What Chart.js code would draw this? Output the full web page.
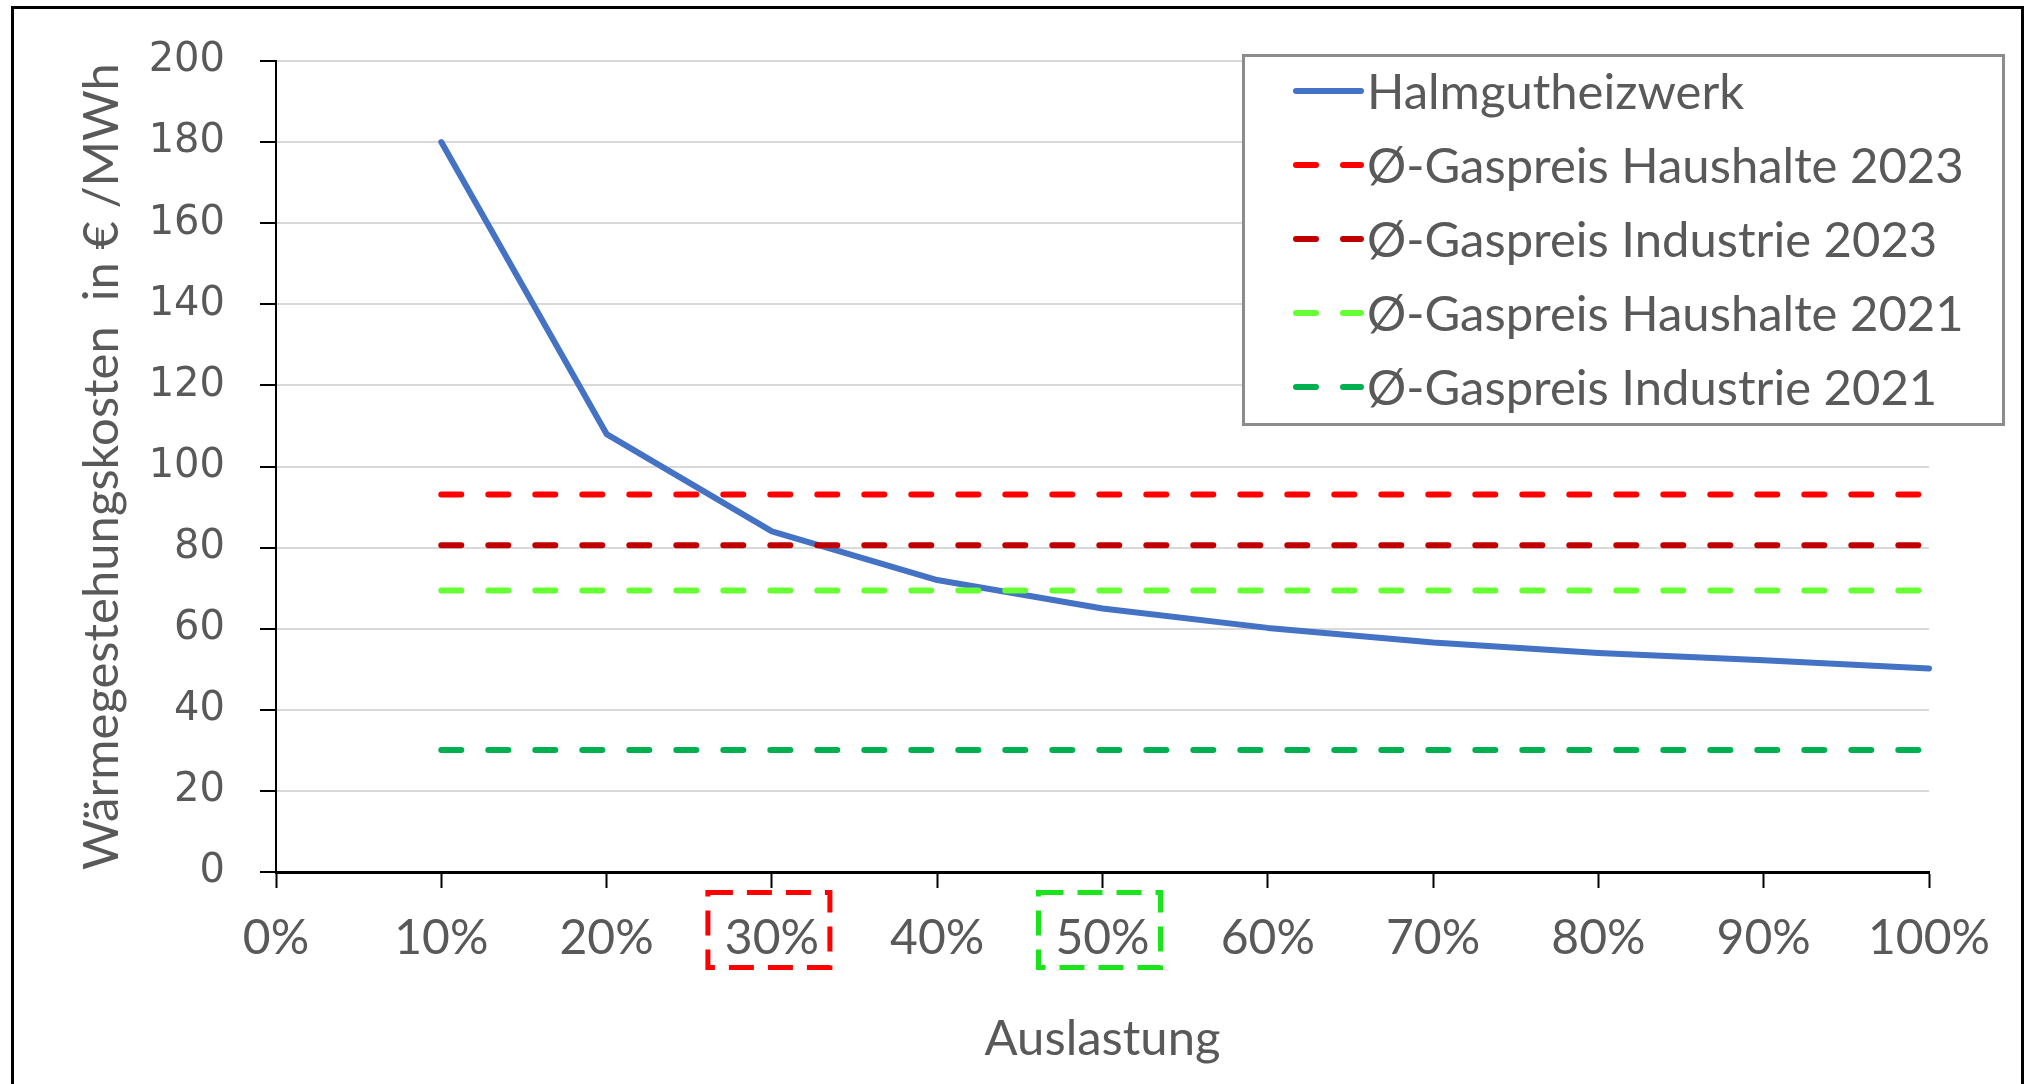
<!DOCTYPE html>
<html>
<head>
<meta charset="utf-8">
<script src="https://cdn.jsdelivr.net/npm/chart.js@4.4.1/dist/chart.umd.min.js"></script>
<style>
  html, body { margin: 0; padding: 0; background: #fff; }
  canvas { display: block; }
</style>
</head>
<body>
<canvas id="waermeChart" width="2033" height="1084"></canvas>
<script>
// Auslastung categories (x axis)
const categories = ["0%", "10%", "20%", "30%", "40%", "50%", "60%", "70%", "80%", "90%", "100%"];

// series values in € / MWh
const halmgutheizwerk = [null, 180, 108, 84, 72, 65, 60.2, 56.6, 54, 52.2, 50.2];
const haushalte2023 = [null, 93.1, 93.1, 93.1, 93.1, 93.1, 93.1, 93.1, 93.1, 93.1, 93.1];
const industrie2023 = [null, 80.6, 80.6, 80.6, 80.6, 80.6, 80.6, 80.6, 80.6, 80.6, 80.6];
const haushalte2021 = [null, 69.4, 69.4, 69.4, 69.4, 69.4, 69.4, 69.4, 69.4, 69.4, 69.4];
const industrie2021 = [null, 30.1, 30.1, 30.1, 30.1, 30.1, 30.1, 30.1, 30.1, 30.1, 30.1];

// y tick range
const yMin = 0;
const yMax = 200;
const yStep = 20;

// labels that get a dashed box below the axis
const markedTicks = [
  { label: "30%", color: "#FF0000" },
  { label: "50%", color: "#1AE51A" },
];

const textColor = "#595959";
const mainFont = "Lato, 'Open Sans', sans-serif";

const gasDash = [20, 27];

const decorations = {
  id: "decorations",
  afterDraw(chart) {
    const ctx = chart.ctx;
    const xScale = chart.scales.x;

    // dashed boxes round selected tick labels
    ctx.save();
    ctx.lineWidth = 5;
    ctx.setLineDash([25, 14]);
    ctx.lineCap = "butt";
    markedTicks.forEach((m) => {
      const idx = categories.indexOf(m.label);
      const cx = xScale.getPixelForValue(idx) - 3;
      ctx.strokeStyle = m.color;
      ctx.strokeRect(cx - 61, 892.5, 122, 75);
    });
    ctx.restore();

    // legend
    const lx = 1243.5, ly = 55.5, lw = 760, lh = 369;
    ctx.save();
    ctx.fillStyle = "#fff";
    ctx.fillRect(lx, ly, lw, lh);
    ctx.strokeStyle = "#8C8C8C";
    ctx.lineWidth = 3;
    ctx.strokeRect(lx, ly, lw, lh);
    ctx.font = "49px " + mainFont;
    ctx.textBaseline = "middle";
    ctx.textAlign = "left";
    chart.data.datasets.forEach((ds, i) => {
      const y = 91 + i * 74;
      ctx.strokeStyle = ds.borderColor;
      ctx.lineWidth = 6;
      ctx.lineCap = "round";
      ctx.setLineDash(ds.borderDash || []);
      ctx.beginPath();
      ctx.moveTo(1296, y);
      ctx.lineTo(1361, y);
      ctx.stroke();
      ctx.setLineDash([]);
      ctx.fillStyle = textColor;
      ctx.fillText(ds.label, 1367, y + 2);
    });
    ctx.restore();

    // outer frame
    ctx.save();
    ctx.strokeStyle = "#000";
    ctx.lineWidth = 3;
    ctx.beginPath();
    ctx.moveTo(12.5, 1090);
    ctx.lineTo(12.5, 7.5);
    ctx.lineTo(2022.5, 7.5);
    ctx.lineTo(2022.5, 1090);
    ctx.stroke();
    ctx.restore();
  },
};

new Chart(document.getElementById("waermeChart"), {
  type: "line",
  data: {
    labels: categories,
    datasets: [
      {
        label: "Halmgutheizwerk",
        data: halmgutheizwerk,
        borderColor: "#4472C4",
        borderWidth: 6,
        borderJoinStyle: "round",
        borderCapStyle: "round",
        order: 1,
      },
      {
        label: "Ø-Gaspreis Haushalte 2023",
        data: haushalte2023,
        borderColor: "#FF0000",
        borderWidth: 6,
        borderDash: gasDash,
        borderCapStyle: "round",
        order: 0,
      },
      {
        label: "Ø-Gaspreis Industrie 2023",
        data: industrie2023,
        borderColor: "#C00000",
        borderWidth: 6,
        borderDash: gasDash,
        borderCapStyle: "round",
        order: 0,
      },
      {
        label: "Ø-Gaspreis Haushalte 2021",
        data: haushalte2021,
        borderColor: "#66FF33",
        borderWidth: 6,
        borderDash: gasDash,
        borderCapStyle: "round",
        order: 0,
      },
      {
        label: "Ø-Gaspreis Industrie 2021",
        data: industrie2021,
        borderColor: "#00B050",
        borderWidth: 6,
        borderDash: gasDash,
        borderCapStyle: "round",
        order: 0,
      },
    ],
  },
  options: {
    responsive: false,
    animation: false,
    devicePixelRatio: 1,
    layout: { padding: { top: 61, right: 104, left: 0, bottom: 0 } },
    elements: { point: { radius: 0, hoverRadius: 0 }, line: { tension: 0 } },
    plugins: {
      legend: { display: false },
      tooltip: { enabled: false },
    },
    scales: {
      x: {
        type: "category",
        offset: false,
        afterFit: (scale) => { scale.height = 212; },
        grid: {
          drawOnChartArea: false,
          drawTicks: true,
          tickLength: 16,
          tickColor: "#000",
          tickWidth: 2,
        },
        border: { color: "#000", width: 3 },
        ticks: {
          color: textColor,
          font: { family: mainFont, size: 48 },
          padding: 22,
          maxRotation: 0,
          autoSkip: false,
        },
        title: {
          display: true,
          text: "Auslastung",
          color: textColor,
          font: { family: mainFont, size: 49 },
          padding: { top: 0, bottom: 15 },
        },
      },
      y: {
        min: yMin,
        max: yMax,
        afterFit: (scale) => { scale.width = 276; },
        grid: {
          color: "#D9D9D9",
          lineWidth: 2,
          tickLength: 16,
          tickColor: "#000",
          tickWidth: 2,
        },
        border: { color: "#000", width: 2 },
        ticks: {
          stepSize: yStep,
          color: textColor,
          font: { family: "'DejaVu Sans', sans-serif", size: 40 },
          padding: 35,
        },
        title: {
          display: true,
          text: "Wärmegestehungskosten  in € /MWh",
          color: textColor,
          font: { family: mainFont, size: 49 },
          padding: { top: 73, bottom: 0 },
        },
      },
    },
  },
  plugins: [decorations],
});
</script>
</body>
</html>
